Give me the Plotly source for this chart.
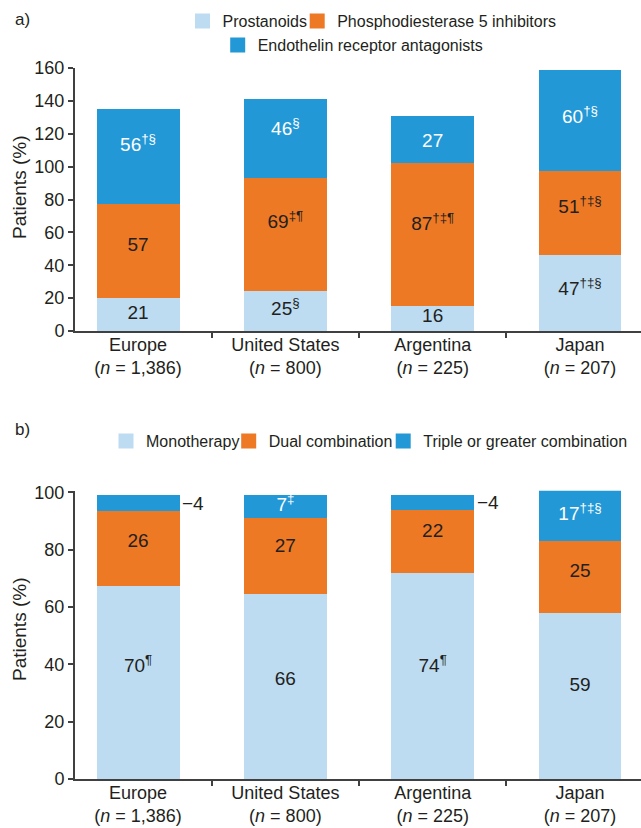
import plotly.graph_objects as go

# ---------------- data ----------------
regions = ["Europe", "United States", "Argentina", "Japan"]
n_values = ["1,386", "800", "225", "207"]

# Panel a – drug classes (% of patients)
prostanoids = [21, 25, 16, 47]
pde5 = [57, 69, 87, 51]
era = [56, 46, 27, 60]
prostanoids_sup = ["", "§", "", "†‡§"]
pde5_sup = ["", "‡¶", "†‡¶", "†‡§"]
era_sup = ["†§", "§", "", "†§"]

# Panel b – treatment regimen (bar heights as drawn; labels as printed)
mono = [68, 65, 72.5, 58.5]
dual = [26, 26.5, 22, 25]
triple = [4.5, 7, 4, 17]
mono_labels = ["70", "66", "74", "59"]
mono_sup = ["¶", "", "¶", ""]
dual_labels = ["26", "27", "22", "25"]
dual_sup = ["", "", "", ""]
triple_labels = ["4", "7", "4", "17"]
triple_sup = ["", "‡", "", "†‡§"]
triple_outside = [True, False, True, False]

# ---------------- style ----------------
C_LIGHT = "#BDDCF2"
C_ORANGE = "#EE7925"
C_BLUE = "#2398D6"
TXT = "#231F20"
AX = "#404040"
FONT = "Liberation Sans, Arial, sans-serif"
W, H = 641, 828
ML, MR, MT, MB = 75, 0, 68, 49
PW, PH = W - ML - MR, H - MT - MB
EDGE = 3                      # same-colour outline (enlarges legend swatches)
BAR_W = 0.563 - EDGE / 147.3  # category spacing is ~147 px
LABEL_SIZE = 19
YMAX_A, YMAX_B = 160, 100.6
PXU_A = (331 - 67.7) / YMAX_A      # px per unit, panel a
PXU_B = (779 - 490.7) / YMAX_B     # px per unit, panel b

# label nudges in px (up = positive), as placed in the original artwork
shift_a1 = [-1, 0, 1, 2]
shift_a2 = [3, 10, 8, 4]
shift_a3 = [11, 8, -3, 2]
shift_b1 = [14, 6, 8, 9]
shift_b2 = [5, 7, 7, 3]
shift_b3 = [0, 1, 0, 0]


def px_x(px):
    return (px - ML) / PW


def px_y(py):
    return (H - MB - py) / PH


tick_text = [f"{r}<br>(<i>n</i> = {n})" for r, n in zip(regions, n_values)]


def lab(vals, sups):
    return [f"{v}<sup>{s}</sup>" if s else f"{v}" for v, s in zip(vals, sups)]


fig = go.Figure()


def add_bar(y, name, color, xa, ya, legend):
    fig.add_trace(go.Bar(
        x=regions, y=y, name=name, marker=dict(color=color, line=dict(width=EDGE, color=color)),
        width=BAR_W, xaxis=xa, yaxis=ya, legend=legend, hoverinfo="skip",
    ))


def add_labels(vals, base, texts, color, xa, ya, shifts, pxu, skip=None):
    keep = [i for i in range(len(vals)) if not (skip and skip[i])]
    fig.add_trace(go.Scatter(
        x=[regions[i] for i in keep],
        y=[base[i] + vals[i] / 2 + shifts[i] / pxu for i in keep],
        text=[texts[i] for i in keep], mode="text", textposition="middle center",
        textfont=dict(family=FONT, size=LABEL_SIZE, color=color),
        xaxis=xa, yaxis=ya, showlegend=False, hoverinfo="skip", cliponaxis=False,
    ))


# panel a
add_bar(prostanoids, "Prostanoids", C_LIGHT, "x", "y", "legend")
add_bar(pde5, "Phosphodiesterase 5 inhibitors", C_ORANGE, "x", "y", "legend2")
add_bar(era, "Endothelin receptor antagonists", C_BLUE, "x", "y", "legend3")
base_a2 = prostanoids
base_a3 = [a + b for a, b in zip(prostanoids, pde5)]

# panel b
add_bar(mono, "Monotherapy", C_LIGHT, "x2", "y2", "legend4")
add_bar(dual, "Dual combination", C_ORANGE, "x2", "y2", "legend5")
add_bar(triple, "Triple or greater combination", C_BLUE, "x2", "y2", "legend6")
base_b2 = mono
base_b3 = [a + b for a, b in zip(mono, dual)]

add_labels(prostanoids, [0] * 4, lab(prostanoids, prostanoids_sup), TXT, "x", "y", shift_a1, PXU_A)
add_labels(pde5, base_a2, lab(pde5, pde5_sup), TXT, "x", "y", shift_a2, PXU_A)
add_labels(era, base_a3, lab(era, era_sup), "white", "x", "y", shift_a3, PXU_A)
add_labels(mono, [0] * 4, lab(mono_labels, mono_sup), TXT, "x2", "y2", shift_b1, PXU_B)
add_labels(dual, base_b2, lab(dual_labels, dual_sup), TXT, "x2", "y2", shift_b2, PXU_B)
add_labels(triple, base_b3, lab(triple_labels, triple_sup), "white", "x2", "y2", shift_b3, PXU_B,
           skip=triple_outside)

# outside labels for thin segments
for i, o in enumerate(triple_outside):
    if o:
        fig.add_annotation(
            x=i + BAR_W / 2, y=base_b3[i] + triple[i] / 2, xref="x2", yref="y2",
            text=f"−{triple_labels[i]}", showarrow=False, xanchor="left", yanchor="middle",
            xshift=2, yshift=shift_b3[i], font=dict(family=FONT, size=LABEL_SIZE, color=TXT))

# panel letters
for t, py in (("a)", 19), ("b)", 430)):
    fig.add_annotation(x=px_x(13), y=px_y(py), xref="paper", yref="paper", text=t,
                       showarrow=False, xanchor="left", yanchor="middle",
                       font=dict(family=FONT, size=17, color=TXT))

# y titles
for py in (188, 630):
    fig.add_annotation(x=px_x(19), y=px_y(py), xref="paper", yref="paper", text="Patients (%)",
                       textangle=-90, showarrow=False, xanchor="center", yanchor="middle",
                       font=dict(family=FONT, size=19, color=TXT))

x_common = dict(
    type="category", range=[-0.428, 3.414], domain=[0, 1], automargin=False,
    showline=True, linecolor=AX, linewidth=2, ticks="outside", tickson="boundaries",
    ticklen=5, tickwidth=1.5, tickcolor=AX, tickvals=regions, ticktext=tick_text,
    ticklabelstandoff=-4,
    tickfont=dict(family=FONT, size=18, color=TXT), showgrid=False, zeroline=False,
    fixedrange=True,
)
y_common = dict(
    showline=True, linecolor=AX, linewidth=2, ticks="outside", ticklen=5, tickwidth=1.5,
    tickcolor=AX, tickfont=dict(family=FONT, size=18, color=TXT), showgrid=False,
    zeroline=False, fixedrange=True, automargin=False,
)

leg_common = dict(orientation="h", xref="paper", yref="paper", xanchor="left", yanchor="middle",
                  bgcolor="rgba(0,0,0,0)", font=dict(family=FONT, size=16, color=TXT),
                  itemclick=False, itemdoubleclick=False, borderwidth=0)


def leg(swatch_center, py):
    d = dict(leg_common)
    d.update(x=px_x(swatch_center - 21.5), y=px_y(py))
    return d


fig.update_layout(
    width=W, height=H, margin=dict(l=ML, r=MR, t=MT, b=MB, autoexpand=False),
    paper_bgcolor="white", plot_bgcolor="white", barmode="stack",
    font=dict(family=FONT, color=TXT),
    showlegend=True,
    xaxis=dict(x_common, anchor="y"),
    yaxis=dict(y_common, domain=[px_y(331), 1], range=[0, YMAX_A],
               tickvals=list(range(0, 161, 20)), anchor="x"),
    xaxis2=dict(x_common, anchor="y2"),
    yaxis2=dict(y_common, domain=[0, px_y(490.7)], range=[0, YMAX_B],
                tickvals=list(range(0, 101, 20)), anchor="x2"),
    legend=leg(204, 21),
    legend2=leg(318.7, 21),
    legend3=leg(239.2, 45),
    legend4=leg(127.5, 441),
    legend5=leg(250.2, 441),
    legend6=leg(404.7, 441),
)

fig.write_html(
    "out.html",
    config={"displayModeBar": False},
    post_script="document.body.style.margin='0';document.body.style.overflow='hidden';",
)
